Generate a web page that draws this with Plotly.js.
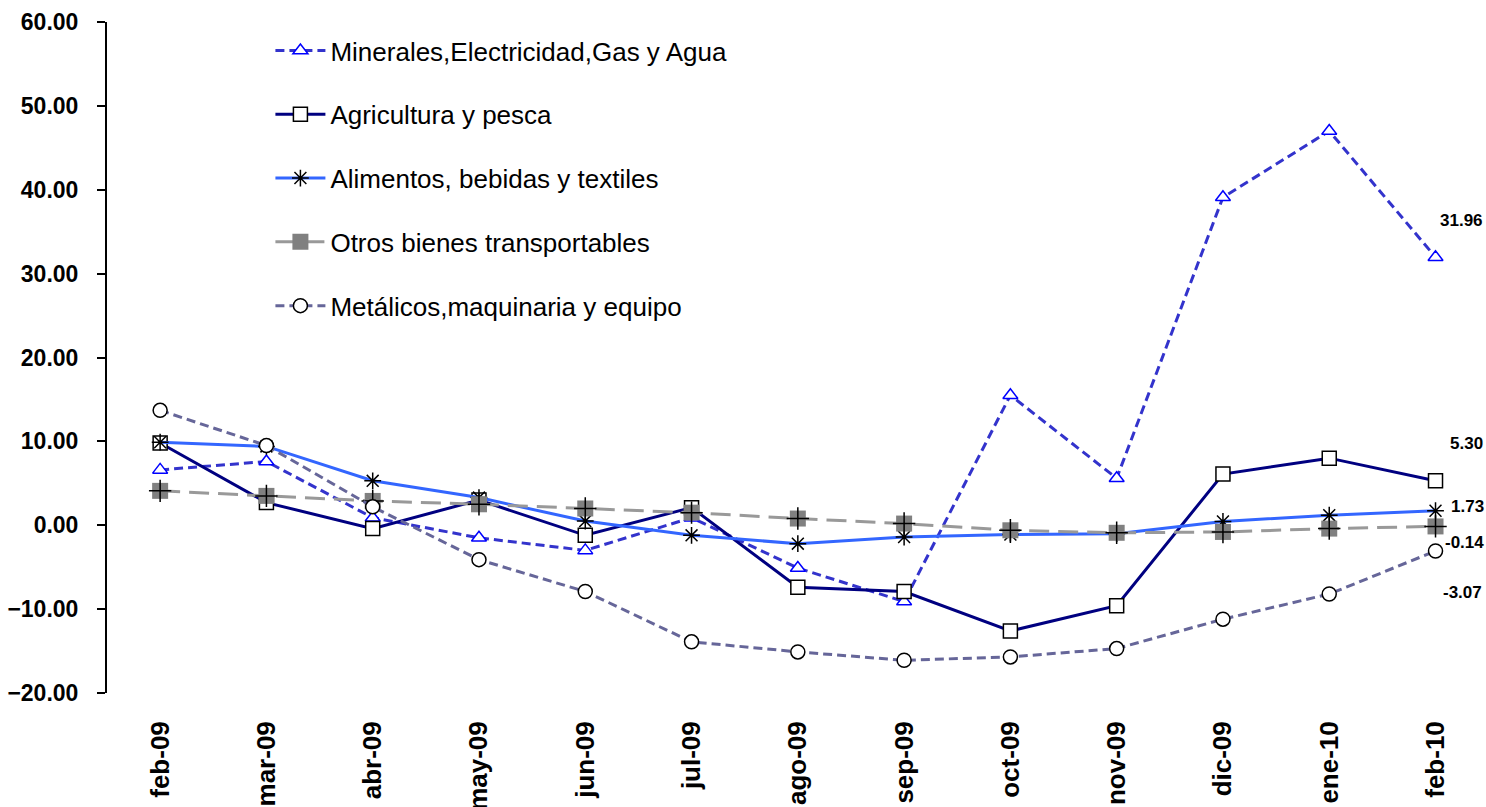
<!DOCTYPE html>
<html>
<head>
<meta charset="utf-8">
<script src="https://cdn.plot.ly/plotly-3.0.1.min.js"></script>
<style>html,body{margin:0;padding:0;background:#fff;}#chart{width:1486px;height:807px;}</style>
</head>
<body>
<div id="chart"></div>
<script>
const categories = ["feb-09","mar-09","abr-09","may-09","jun-09","jul-09","ago-09","sep-09","oct-09","nov-09","dic-09","ene-10","feb-10"];
const seriesNames = ["Minerales,Electricidad,Gas y Agua","Agricultura y pesca","Alimentos, bebidas y textiles","Otros bienes transportables","Metálicos,maquinaria y equipo"];
const minerales   = [6.6, 7.6, 0.9, -1.5, -3.0, 0.9, -5.1, -9.1, 15.5, 5.6, 39.1, 47.0, 31.96];
const agricultura = [9.8, 2.7, -0.4, 3.0, -1.2, 2.1, -7.4, -7.9, -12.6, -9.6, 6.1, 8.0, 5.30];
const alimentos   = [9.9, 9.4, 5.3, 3.3, 0.5, -1.2, -2.2, -1.4, -1.1, -1.0, 0.45, 1.2, 1.73];
const otros       = [4.1, 3.5, 2.9, 2.5, 2.0, 1.5, 0.8, 0.2, -0.6, -0.9, -0.8, -0.4, -0.14];
const metalicos   = [13.7, 9.5, 2.2, -4.1, -7.9, -13.9, -15.1, -16.1, -15.7, -14.7, -11.2, -8.2, -3.07];

const FONT = "Liberation Sans, Arial, sans-serif";

const traces = [
  {x: categories, y: minerales, name: seriesNames[0], legendgroup: "g1", mode: "lines+markers",
   line: {color: "#3333CC", width: 3, dash: "9px,5px"},
   marker: {symbol: "triangle-up", size: 13, color: "#FFFFFF", line: {color: "#0000FF", width: 1.5}}},
  {x: categories, y: agricultura, name: seriesNames[1], legendgroup: "g2", mode: "lines+markers",
   line: {color: "#000080", width: 3},
   marker: {symbol: "square", size: 14, color: "#FFFFFF", line: {color: "#000000", width: 1.5}}},
  {x: categories, y: alimentos, name: seriesNames[2], legendgroup: "g3", mode: "lines+markers",
   line: {color: "#3366FF", width: 3},
   marker: {symbol: "asterisk-open", size: 14, color: "#000000", line: {color: "#000000", width: 1.5}}},
  {x: categories, y: otros, name: seriesNames[3], legendgroup: "g4", mode: "lines+markers",
   line: {color: "#999999", width: 3, dash: "20px,9px"},
   marker: {symbol: "square", size: 16, color: "#808080", line: {width: 0}}},
  {x: categories, y: otros, name: seriesNames[3], legendgroup: "g4", mode: "markers", showlegend: false,
   marker: {symbol: "cross-thin-open", size: 16, color: "#000000", line: {color: "#000000", width: 1.5}}},
  {x: categories, y: metalicos, name: seriesNames[4], legendgroup: "g5", mode: "lines+markers",
   line: {color: "#666699", width: 3, dash: "9px,5px"},
   marker: {symbol: "circle", size: 14, color: "#FFFFFF", line: {color: "#000000", width: 1.5}}}
];

const last = categories.length - 1;
const labelSeries = [minerales, agricultura, alimentos, otros, metalicos];
const labelShift = [[26, 37], [31, 37], [32, 4], [29, -16], [27, -41]];
const annotations = labelSeries.map((s, i) => ({
  x: categories[last], y: s[last], xref: "x", yref: "y",
  text: s[last].toFixed(2), showarrow: false,
  xshift: labelShift[i][0], yshift: labelShift[i][1],
  font: {family: FONT, size: 17, color: "#000000", weight: "bold"}
}));

const layout = {
  width: 1486, height: 807,
  margin: {l: 107, r: 0, t: 22, b: 114, pad: 0},
  paper_bgcolor: "#FFFFFF", plot_bgcolor: "#FFFFFF",
  showlegend: true,
  legend: {
    x: 0.1185, y: 0.9925, xanchor: "left", yanchor: "top",
    bgcolor: "rgba(0,0,0,0)", borderwidth: 0,
    font: {family: FONT, size: 26, color: "#000000"},
    tracegroupgap: 27, itemwidth: 50
  },
  xaxis: {
    type: "category", range: [-0.5, 12.475],
    showline: false, showgrid: false, zeroline: false, ticks: "",
    tickangle: -90, ticklabelstandoff: 22,
    tickfont: {family: FONT, size: 26, color: "#000000", weight: "bold"}
  },
  yaxis: {
    range: [-20, 60], tick0: 0, dtick: 10, tickformat: ".2f",
    showline: true, linecolor: "#000000", linewidth: 2,
    ticks: "outside", ticklen: 8, tickwidth: 2, tickcolor: "#000000",
    showgrid: false, zeroline: false, ticklabelstandoff: 14,
    tickfont: {family: FONT, size: 23, color: "#000000", weight: "bold"}
  },
  annotations: annotations
};

Plotly.newPlot("chart", traces, layout, {displayModeBar: false, staticPlot: true});
</script>
</body>
</html>
